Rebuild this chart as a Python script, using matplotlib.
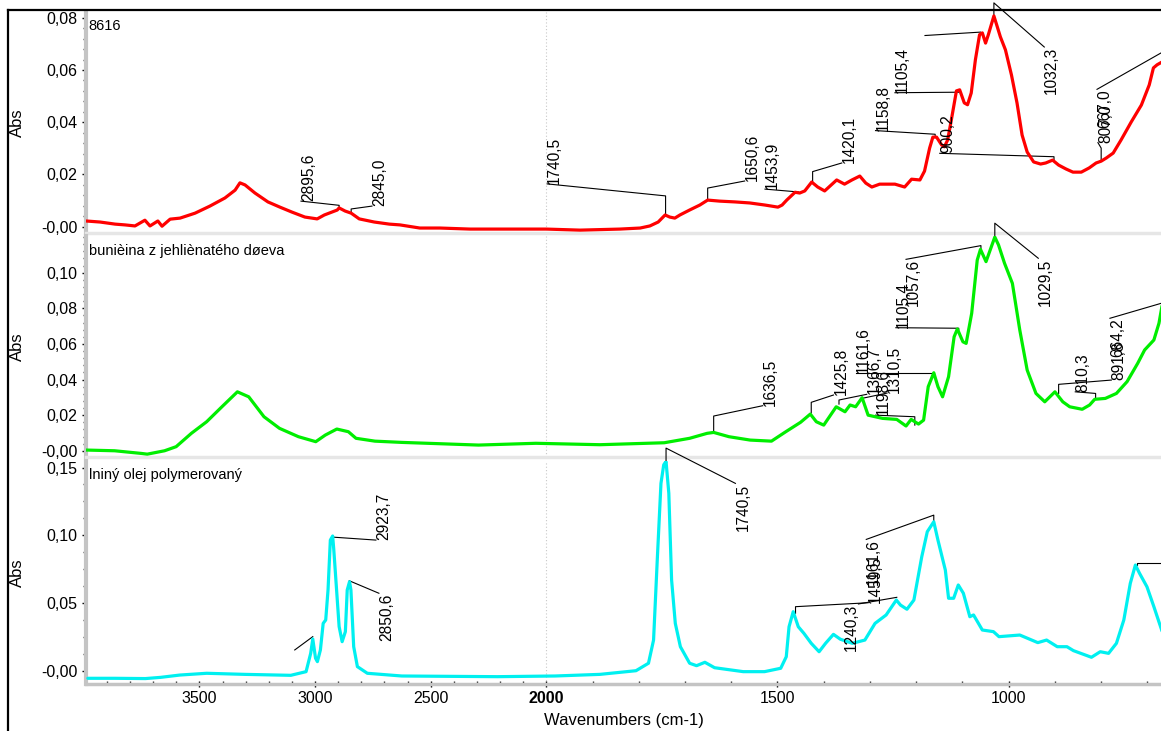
import numpy as np
import matplotlib
matplotlib.use("Agg")
import matplotlib.pyplot as plt
from matplotlib.lines import Line2D
from matplotlib.ticker import FixedLocator, FuncFormatter, MultipleLocator

plt.rcParams['font.family'] = ['Liberation Sans', 'DejaVu Sans']

# ---------------- data ----------------
red_wn = [3991, 3930, 3865, 3822, 3779, 3736, 3714, 3680, 3662, 3627,
          3584, 3519, 3455, 3390, 3346, 3325, 3303, 3260, 3204, 3152,
          3100, 3044, 2991, 2960, 2904, 2896, 2870, 2844, 2809, 2744,
          2679, 2633, 2547, 2460, 2330, 2200, 2000, 1927, 1841, 1797,
          1776, 1758, 1743, 1733, 1722, 1711, 1690, 1668, 1651, 1625,
          1592, 1560, 1527, 1499, 1490, 1480, 1462, 1452, 1441, 1426,
          1413, 1398, 1372, 1355, 1339, 1322, 1309, 1296, 1279, 1246,
          1225, 1210, 1192, 1182, 1171, 1164, 1156, 1145, 1139, 1132,
          1124, 1113, 1106, 1096, 1089, 1081, 1072, 1063, 1057, 1050,
          1044, 1032, 1026, 1018, 1007, 994, 982, 971, 960, 946,
          931, 920, 905, 892, 876, 861, 843, 826, 811, 800,
          789, 774, 757, 735, 713, 696, 687, 679, 668]
red_abs = [0.0022, 0.0018, 0.0010, 0.0007, 0.0003, 0.0025, 0.0003, 0.0022, 0.0002, 0.0029,
           0.0033, 0.0052, 0.0079, 0.0110, 0.0140, 0.0168, 0.0160, 0.0129, 0.0095, 0.0075,
           0.0056, 0.0037, 0.0030, 0.0045, 0.0064, 0.0072, 0.0060, 0.0052, 0.0030, 0.0018,
           0.0010, 0.0007, -0.0005, -0.0005, -0.0009, -0.0009, -0.0009, -0.0013, -0.0009, -0.0005,
           0.0003, 0.0018, 0.0045, 0.0037, 0.0033, 0.0045, 0.0064, 0.0083, 0.0102, 0.0098,
           0.0095, 0.0091, 0.0083, 0.0075, 0.0083, 0.0102, 0.0132, 0.0129, 0.0137, 0.0171,
           0.0152, 0.0137, 0.0179, 0.0163, 0.0179, 0.0194, 0.0167, 0.0152, 0.0163, 0.0163,
           0.0152, 0.0182, 0.0179, 0.0213, 0.0301, 0.0343, 0.0343, 0.0313, 0.0306, 0.0332,
           0.0409, 0.0520, 0.0524, 0.0474, 0.0467, 0.0512, 0.0639, 0.0735, 0.0742, 0.0703,
           0.0735, 0.0807, 0.0773, 0.0727, 0.0677, 0.0581, 0.0474, 0.0351, 0.0286, 0.0248,
           0.0240, 0.0244, 0.0255, 0.0236, 0.0221, 0.0209, 0.0209, 0.0225, 0.0244, 0.0251,
           0.0263, 0.0282, 0.0332, 0.0401, 0.0466, 0.0543, 0.0608, 0.0620, 0.0631]

green_wn = [3991, 3867, 3751, 3726, 3651, 3601, 3535, 3469, 3403, 3336,
            3287, 3221, 3154, 3072, 2997, 2956, 2906, 2856, 2823, 2741,
            2625, 2293, 2045, 1884, 1745, 1690, 1652, 1638, 1605, 1559,
            1513, 1482, 1450, 1429, 1416, 1400, 1373, 1354, 1343, 1331,
            1317, 1304, 1273, 1242, 1222, 1211, 1195, 1184, 1174, 1162,
            1153, 1143, 1130, 1118, 1111, 1099, 1092, 1080, 1068, 1061,
            1049, 1030, 1022, 1009, 992, 976, 960, 941, 922, 900,
            883, 868, 841, 825, 814, 791, 767, 744, 721, 706,
            686, 675, 668]
green_abs = [0.0004, 0.0000, -0.0015, -0.0019, 0.0000, 0.0023, 0.0098, 0.0163, 0.0247, 0.0331,
             0.0303, 0.0191, 0.0126, 0.0079, 0.0051, 0.0088, 0.0122, 0.0107, 0.0070, 0.0054,
             0.0047, 0.0032, 0.0042, 0.0034, 0.0045, 0.0070, 0.0098, 0.0103, 0.0079, 0.0060,
             0.0054, 0.0107, 0.0160, 0.0206, 0.0163, 0.0144, 0.0247, 0.0219, 0.0257, 0.0247,
             0.0298, 0.0200, 0.0182, 0.0176, 0.0139, 0.0176, 0.0150, 0.0172, 0.0360, 0.0438,
             0.0360, 0.0303, 0.0416, 0.0640, 0.0684, 0.0612, 0.0603, 0.0772, 0.1071, 0.1131,
             0.1062, 0.1200, 0.1156, 0.1053, 0.0940, 0.0678, 0.0453, 0.0322, 0.0275, 0.0331,
             0.0275, 0.0247, 0.0233, 0.0257, 0.0289, 0.0294, 0.0322, 0.0388, 0.0491, 0.0566,
             0.0622, 0.0716, 0.0819]

cyan_wn = [3983, 3867, 3734, 3668, 3585, 3469, 3304, 3105, 3039, 3019,
           3010, 2998, 2990, 2977, 2965, 2954, 2944, 2934, 2924, 2919,
           2907, 2896, 2883, 2869, 2861, 2851, 2845, 2833, 2817, 2774,
           2625, 2211, 1981, 1884, 1806, 1779, 1768, 1760, 1752, 1746,
           1741, 1735, 1729, 1721, 1710, 1690, 1675, 1657, 1636, 1574,
           1528, 1493, 1481, 1475, 1466, 1455, 1443, 1427, 1410, 1396,
           1379, 1364, 1338, 1311, 1289, 1265, 1243, 1234, 1220, 1205,
           1188, 1176, 1162, 1153, 1137, 1130, 1119, 1109, 1098, 1084,
           1076, 1057, 1033, 1021, 976, 937, 918, 895, 874, 860,
           821, 802, 784, 767, 751, 737, 726, 717, 701, 686,
           668]
cyan_abs = [-0.0054, -0.0054, -0.0056, -0.0047, -0.0030, -0.0017, -0.0025, -0.0032, -0.0005, 0.0130,
            0.0236, 0.0094, 0.0069, 0.0155, 0.0351, 0.0376, 0.0597, 0.0965, 0.0995, 0.0892,
            0.0597, 0.0327, 0.0216, 0.0290, 0.0597, 0.0658, 0.0597, 0.0179, 0.0032, -0.0017,
            -0.0037, -0.0042, -0.0037, -0.0025, 0.0002, 0.0057, 0.0228, 0.0818, 0.1383, 0.1520,
            0.1545, 0.1310, 0.0671, 0.0351, 0.0179, 0.0057, 0.0039, 0.0064, 0.0024, -0.0005,
            -0.0005, 0.0020, 0.0105, 0.0326, 0.0437, 0.0326, 0.0278, 0.0204, 0.0142, 0.0204,
            0.0270, 0.0234, 0.0204, 0.0228, 0.0351, 0.0413, 0.0523, 0.0486, 0.0455, 0.0523,
            0.0842, 0.1027, 0.1100, 0.0965, 0.0744, 0.0536, 0.0536, 0.0634, 0.0573, 0.0400,
            0.0413, 0.0302, 0.0290, 0.0253, 0.0265, 0.0209, 0.0228, 0.0179, 0.0179, 0.0150,
            0.0101, 0.0142, 0.0130, 0.0204, 0.0376, 0.0646, 0.0781, 0.0720, 0.0621, 0.0474,
            0.0290]

titles = ["8616", "bunièina z jehliènatého døeva", "lniný olej polymerovaný"]
x_ticks = [3500, 3000, 2500, 2000, 1500, 1000]
x_tick_labels = ["3500", "3000", "2500", "2000", "1500", "1000"]
red_yticks = [0.00, 0.02, 0.04, 0.06, 0.08]
green_yticks = [0.00, 0.02, 0.04, 0.06, 0.08, 0.10]
cyan_yticks = [0.00, 0.05, 0.10, 0.15]

# peak labels: (text, peak wn, peak abs, elbow abs, label wn, label abs, va, ha)
red_marks = [
    ("2895,6", 2896, 0.0072, 0.0082, 3061, 0.0098, 'bottom', 'left'),
    ("2845,0", 2844, 0.0052, 0.0068, 2754, 0.0079, 'bottom', 'left'),
    ("1740,5", 1742, 0.0050, 0.0118, 1998, 0.0164, 'bottom', 'left'),
    ("1650,6", 1651, 0.0102, 0.0148, 1571, 0.0175, 'bottom', 'left'),
    ("1453,9", 1454, 0.0133, 0.0133, 1527, 0.0144, 'bottom', 'left'),
    ("1420,1", 1424, 0.0169, 0.0211, 1361, 0.0244, 'bottom', 'left'),
    ("1158,8", 1159, 0.0344, 0.0354, 1288, 0.0368, 'bottom', 'left'),
    ("1105,4", 1106, 0.0520, 0.0515, 1246, 0.0513, 'bottom', 'left'),
    ("", 1061, 0.0745, 0.0745, 1181, 0.0732, 'bottom', 'left'),
    ("1032,3", 1032, 0.0807, 0.0857, 923, 0.0688, 'top', 'left'),
    ("900,2", 902, 0.0255, 0.0268, 1149, 0.0281, 'bottom', 'left'),
    ("807,0", 800, 0.0251, 0.0301, 807, 0.0322, 'bottom', 'left'),
    ("667,0", 640, 0.0696, 0.0696, 809, 0.0526, 'top', 'left'),
]
green_marks = [
    ("1636,5", 1638, 0.0107, 0.0195, 1532, 0.0253, 'bottom', 'left'),
    ("1425,8", 1427, 0.0213, 0.0272, 1379, 0.0313, 'bottom', 'left'),
    ("1366,7", 1367, 0.0262, 0.0285, 1307, 0.0317, 'bottom', 'left'),
    ("1310,5", 1314, 0.0296, 0.0296, 1263, 0.0324, 'bottom', 'left'),
    ("1198,6", 1203, 0.0144, 0.0191, 1288, 0.0200, 'bottom', 'left'),
    ("1161,6", 1162, 0.0438, 0.0438, 1331, 0.0438, 'bottom', 'left'),
    ("1105,4", 1108, 0.0678, 0.0688, 1244, 0.0691, 'bottom', 'left'),
    ("1057,6", 1060, 0.1128, 0.1152, 1222, 0.1075, 'top', 'left'),
    ("1029,5", 1030, 0.1200, 0.1278, 936, 0.1081, 'top', 'left'),
    ("891,8", 892, 0.0322, 0.0373, 778, 0.0397, 'bottom', 'left'),
    ("810,3", 812, 0.0294, 0.0322, 856, 0.0331, 'bottom', 'left'),
    ("664,2", 640, 0.0851, 0.0851, 781, 0.0744, 'top', 'left'),
]
cyan_marks = [
    ("2923,7", 2925, 0.0987, 0.0987, 2737, 0.0965, 'bottom', 'left'),
    ("2850,6", 2852, 0.0665, 0.0665, 2724, 0.0573, 'top', 'left'),
    ("", 3010, 0.0253, 0.0253, 3088, 0.0155, 'bottom', 'left'),
    ("1740,5", 1741, 0.1545, 0.1643, 1591, 0.1383, 'top', 'left'),
    ("1459,5", 1461, 0.0425, 0.0474, 1304, 0.0503, 'bottom', 'left'),
    ("1161,6", 1162, 0.1100, 0.1149, 1308, 0.0970, 'top', 'left'),
    ("1240,3", 1242, 0.0543, 0.0543, 1325, 0.0494, 'top', 'right'),
    ("", 722, 0.0781, 0.0794, 600, 0.0794, 'bottom', 'left'),
]

assert len(red_wn) == len(red_abs)
assert len(green_wn) == len(green_abs)
assert len(cyan_wn) == len(cyan_abs)

# ---------------- layout ----------------
W, H = 1161, 731
fig = plt.figure(figsize=(W / 100, H / 100), dpi=100)
fig.patch.set_facecolor('white')


def fwd(x):
    x = np.asarray(x, dtype=float)
    return np.where(x > 2000, 2000 + (x - 2000) / 2.0, x)


def inv(y):
    y = np.asarray(y, dtype=float)
    return np.where(y > 2000, 2000 + (y - 2000) * 2.0, y)


def yfmt(v, pos):
    if abs(v) < 1e-9:
        return '-0,00'
    return f'{v:.2f}'.replace('.', ',')


AX_LEFT = 85.5
panels = [
    dict(wn=red_wn, ab=red_abs, color='#ff0000', px=(12, 233), ylim=(-0.0024, 0.0822),
         ticks=red_yticks, minor=0.004, marks=red_marks, title=titles[0], ty=0.968,
         bottom_col='#e6e6e6'),
    dict(wn=green_wn, ab=green_abs, color='#00ee00', px=(236, 457), ylim=(-0.0035, 0.1206),
         ticks=green_yticks, minor=0.004, marks=green_marks, title=titles[1], ty=0.962,
         bottom_col='#e6e6e6'),
    dict(wn=cyan_wn, ab=cyan_abs, color='#00f0f0', px=(461, 684), ylim=(-0.0096, 0.1548),
         ticks=cyan_yticks, minor=0.0125, marks=cyan_marks, title=titles[2], ty=0.968,
         bottom_col='#c4c4c4'),
]

for i, p in enumerate(panels):
    top, bot = p['px']
    ax = fig.add_axes([AX_LEFT / W, 1 - bot / H, 1 - AX_LEFT / W, (bot - top) / H])
    ax.set_xscale('function', functions=(fwd, inv))
    ax.set_xlim(3993, 670.6)
    ax.set_ylim(*p['ylim'])
    ax.set_facecolor('white')

    ax.axvline(2000, color='#c8c8c8', ls=(0, (1, 2)), lw=0.8, zorder=1)
    ax.plot(p['wn'], p['ab'], color=p['color'], lw=2.3, zorder=3,
            solid_joinstyle='round', solid_capstyle='round')

    for (lab, pw, pa, ea, lw_, la, va, ha) in p['marks']:
        ax.plot([pw, pw, lw_], [pa, ea, la], color='black', lw=0.8, zorder=2,
                clip_on=False)
        if lab:
            ax.text(lw_, la, lab, rotation=90, ha=ha, va=va, fontsize=11.2,
                    clip_on=False, zorder=4)

    for s in ['top', 'right']:
        ax.spines[s].set_visible(False)
    ax.spines['left'].set_color('#c4c4c4')
    ax.spines['left'].set_linewidth(3)
    ax.spines['bottom'].set_color(p['bottom_col'])
    ax.spines['bottom'].set_linewidth(2.5)

    ax.yaxis.set_major_locator(FixedLocator(p['ticks']))
    ax.yaxis.set_minor_locator(MultipleLocator(p['minor']))
    ax.yaxis.set_major_formatter(FuncFormatter(yfmt))
    ax.tick_params(axis='y', which='major', direction='out', length=3, width=1,
                   labelsize=11.5, pad=3, color='black')
    ax.tick_params(axis='y', which='minor', direction='out', length=2, width=1,
                   color='#333333')

    if i < 2:
        ax.tick_params(axis='x', which='both', bottom=False, labelbottom=False)
    else:
        ax.set_xticks(x_ticks, x_tick_labels)
        ax.xaxis.set_minor_locator(FixedLocator(list(range(3900, 600, -100))))
        ax.tick_params(axis='x', which='major', direction='inout', length=4, width=1,
                       labelsize=11.5, pad=3)
        ax.tick_params(axis='x', which='minor', direction='in', length=2, width=1,
                       color='#333333')
        for t in ax.xaxis.get_major_ticks():
            if t.label1.get_text() == '2000':
                t.label1.set_fontweight('bold')
        for lbl in ax.get_xticklabels():
            if lbl.get_text() == '2000':
                lbl.set_fontweight('bold')

    ax.text(0.003, p['ty'], p['title'], transform=ax.transAxes, ha='left', va='top',
            fontsize=10.5)

    fig.text(17 / W, 1 - ((top + bot) / 2) / H, 'Abs', rotation=90, ha='center',
             va='center', fontsize=12)

fig.text(624 / W, 1 - 720 / H, 'Wavenumbers (cm-1)', ha='center', va='center',
         fontsize=12)

# outer frame (left and top edges)
fig.add_artist(Line2D([8 / W, 8 / W], [0, 1 - 10 / H], transform=fig.transFigure,
                      color='black', lw=1.6))
fig.add_artist(Line2D([8 / W, 1], [1 - 10 / H, 1 - 10 / H], transform=fig.transFigure,
                      color='black', lw=1.6))

fig.savefig('out.png', dpi=100)
